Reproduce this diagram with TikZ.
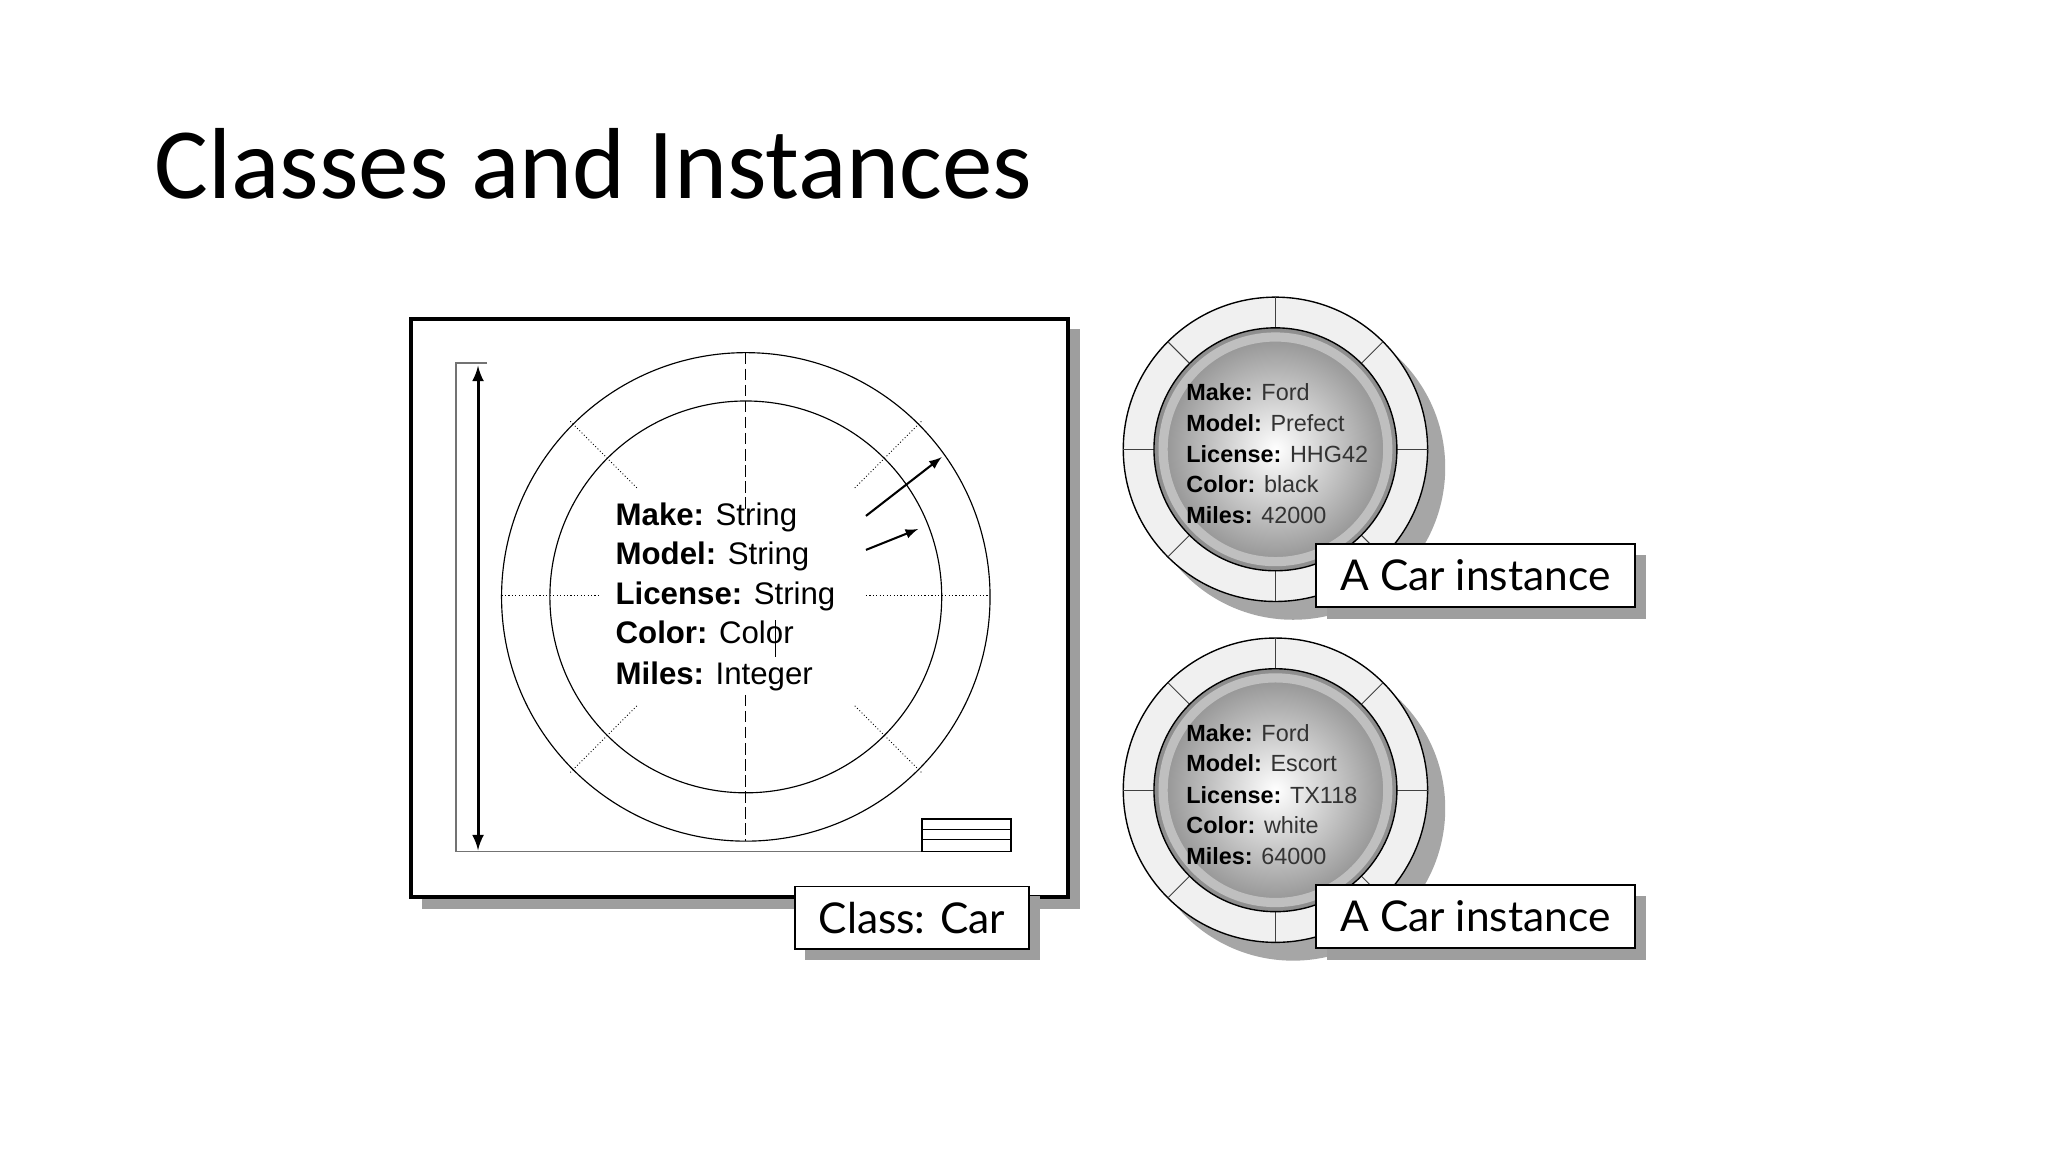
\documentclass[tikz,border=0pt]{standalone}
\usepackage{fontspec}
\usetikzlibrary{calc}
\setmainfont{Liberation Sans}
\newfontfamily\titlefont{Carlito}
\newfontfamily\gillfont{Lato}
\begin{document}
\begin{tikzpicture}[x=0.02cm,y=-0.02cm,
  shadowc/.style={fill=black!38,draw=none},
  labelbox/.style={draw=black,line width=0.7pt,fill=white},
  attrC/.style={anchor=base west,inner sep=0,font=\fontsize{13.6}{16}\selectfont},
  attrI/.style={anchor=base west,inner sep=0,font=\fontsize{10.2}{12}\selectfont,text=black!80},
  thinline/.style={line width=0.5pt,black},
  divider/.style={line width=0.4pt,black!75}]
\useasboundingbox (0,0) rectangle (1568,882);
\fill[white] (0,0) rectangle (1568,882);
% title
\node[anchor=base west,inner sep=0,font=\titlefont\fontsize{44}{50}\selectfont] (title) at (118,152) {Classes and Instances};
% class box
\fill[shadowc] (323,252) rectangle (827,696);
\draw[line width=1.8pt,fill=white] (315,244) rectangle (818,687);
\draw[black!55,line width=0.6pt] (373,278) -- (349,278) -- (349,652) -- (775,652);
\coordinate (atop) at (366,280); \coordinate (abot) at (366,651);
\draw[line width=1.3pt,-latex] (366,466) -- (atop);
\draw[line width=1.3pt,-latex] (366,466) -- (abot);
\coordinate (cc) at (571,457);
\draw[thinline] (cc) circle (187);
\draw[thinline] (cc) circle (150);
\draw[thinline,dashed,dash pattern=on 5pt off 2pt] (571,270) -- (571,392);
\draw[thinline,dashed,dash pattern=on 5pt off 2pt] (571,532) -- (571,644);
\draw[thinline,densely dotted] (384,456) -- (458,456);
\draw[thinline,densely dotted] (663,456) -- (757,456);
\foreach \a in {45,135,225,315}
  \draw[line width=0.4pt,densely dotted] ($(cc)+(\a:118 and -118)$) -- ($(cc)+(\a:190 and -190)$);
\draw[line width=0.9pt,-latex] (663,395) -- (721,350);
\draw[line width=0.9pt,-latex] (663,421) -- (703,405);
\node[attrC] (cm) at (471,402) {\textbf{Make:} String};
\node[attrC] (cmo) at (471,432) {\textbf{Model:} String};
\node[attrC] (cl) at (471,463) {\textbf{License:} String};
\node[attrC] (ccol) at (471,493) {\textbf{Color:} Color};
\node[attrC] (cmi) at (471,524) {\textbf{Miles:} Integer};
\draw[line width=0.5pt] (594,475) -- (594,503);
\draw[line width=0.6pt] (706,627) rectangle (774,652);
\draw[line width=0.5pt] (706,635) -- (774,635) (706,643) -- (774,643);
\fill[shadowc] (616,686) rectangle (796,735);
\node[labelbox,minimum width=179*0.02cm,minimum height=48*0.02cm,anchor=north west,inner sep=0] (clab) at (608,678) {};
\node[font=\gillfont\fontsize{18.5}{20}\selectfont] at (clab.center) {Class: Car};
% instances
\foreach \cy/\mk/\md/\li/\co/\mi/\nm in {344/Ford/Prefect/HHG42/black/42000/i1, 605/Ford/Escort/TX118/white/64000/i2}{
  \fill[black!35] (990,\cy+14) circle (116.5);
  \draw[line width=0.6pt,fill=black!6] (976.5,\cy) circle (116.5);
  \foreach \a in {0,45,...,315}
    \draw[divider] ($(976.5,\cy)+(\a:93 and -93)$) -- ($(976.5,\cy)+(\a:116.5 and -116.5)$);
  \shade[inner color=white,outer color=black!45,draw=black,line width=0.6pt] (976.5,\cy) circle (93);
  \draw[black!25,line width=4pt] (976.5,\cy) circle (86);
  \node[attrI] (\nm a) at (908,\cy-37) {\textbf{\color{black}Make:} \mk};
  \node[attrI] (\nm b) at (908,\cy-14) {\textbf{\color{black}Model:} \md};
  \node[attrI] (\nm c) at (908,\cy+10) {\textbf{\color{black}License:} \li};
  \node[attrI] (\nm d) at (908,\cy+33) {\textbf{\color{black}Color:} \co};
  \node[attrI] (\nm e) at (908,\cy+57) {\textbf{\color{black}Miles:} \mi};
  \fill[shadowc] (1016,\cy+81) rectangle (1260,\cy+130);
  \node[labelbox,minimum width=244*0.02cm,minimum height=48*0.02cm,anchor=north west,inner sep=0] (\nm lab) at (1007,\cy+72) {};
  \node[font=\gillfont\fontsize{18.5}{20}\selectfont] at (\nm lab.center) {A Car instance};
}
\end{tikzpicture}
\end{document}
